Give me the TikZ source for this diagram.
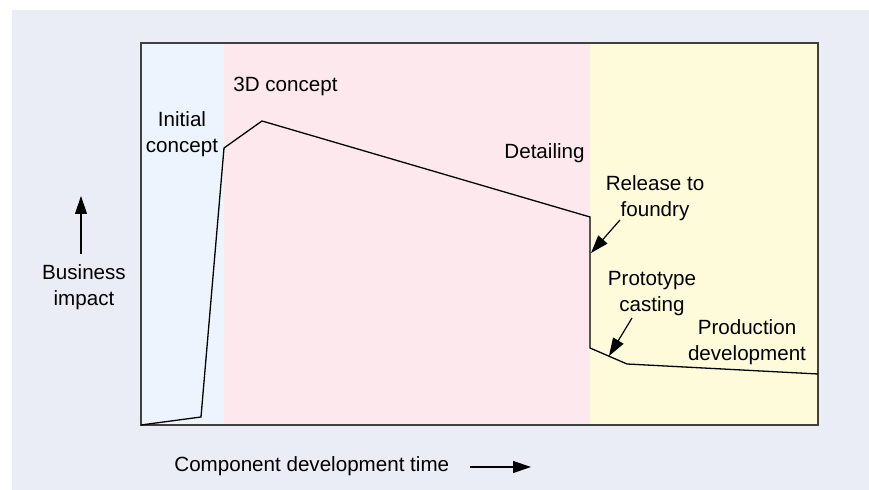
\documentclass[tikz,border=0pt]{standalone}
\usepackage{fontspec}
\setmainfont{Liberation Sans}
\usetikzlibrary{arrows.meta,positioning}
\definecolor{paneback}{HTML}{EAEDF6}
\definecolor{phaseinit}{HTML}{EDF4FD}
\definecolor{phasedesign}{HTML}{FDE8EE}
\definecolor{phasecast}{HTML}{FEFBDB}
\begin{document}
\begin{tikzpicture}[
  x=0.5pt, y=-0.5pt,
  lbl/.style={align=center, inner sep=0pt, font=\fontsize{10.3}{13}\selectfont},
  ar/.style={-{Triangle[length=9pt,width=6pt]}, line width=0.6pt},
  impact/.style={line width=0.65pt, line join=miter},
  frame/.style={draw=black!75, line width=0.8pt}
]
\useasboundingbox (0,0) rectangle (869,490);
\fill[paneback] (12,10) rectangle (869,490);

% phase bands
\fill[phaseinit] (141,43) rectangle (224,425);
\fill[phasedesign] (224,43) rectangle (590,425);
\fill[phasecast] (590,43) rectangle (818,425);
\draw[frame] (141,43) rectangle (818,425);

% impact curve
\coordinate (c0) at (141,425);
\coordinate (c1) at (201,417);
\coordinate (c2) at (224,148);
\coordinate (c3) at (262,121);
\coordinate (c4) at (590,217);
\coordinate (c5) at (590,348);
\coordinate (c6) at (627,364);
\coordinate (c7) at (818,374);
\draw[impact] (c0) -- (c1) -- (c2) -- (c3) -- (c4) -- (c5) -- (c6) -- (c7);

\node[lbl] (init) at (182,134) {Initial\\concept};
\node[lbl, anchor=west] (concept) at (233,86) {3D concept};
\node[lbl, anchor=east] (detail) at (585,153) {Detailing};
\node[lbl] (release) at (655,198) {Release to\\foundry};
\node[lbl] (proto) at (652,294) {Prototype\\casting};
\node[lbl] (prod) at (747,342) {Production\\development};

\coordinate (relfrom) at (620,220);
\coordinate (relto) at (591,253);
\coordinate (protofrom) at (632,318);
\coordinate (prototo) at (609,356);
\draw[ar] (relfrom) -- (relto);
\draw[ar] (protofrom) -- (prototo);

% axes
\node[lbl] (biz) at (84,287) {Business\\impact};
\coordinate (uplow) at (81,254);
\coordinate (uphigh) at (81,196);
\draw[ar] (uplow) -- (uphigh);

\node[lbl, anchor=west] (time) at (174,466) {Component development time};
\coordinate (rightend) at (531,467);
\draw[ar] ([xshift=10pt]time.east |- rightend) -- (rightend);
\end{tikzpicture}
\end{document}
